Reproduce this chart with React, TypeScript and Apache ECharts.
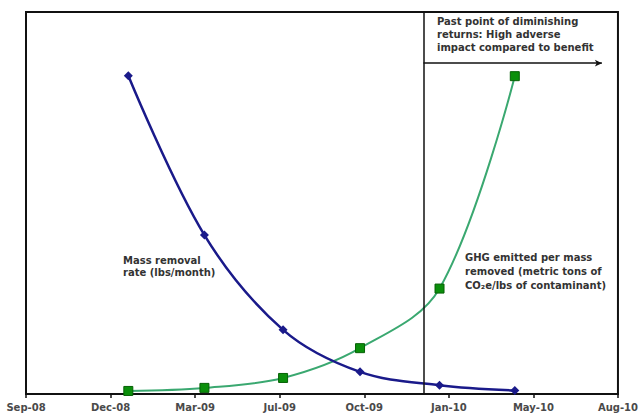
import React, { useEffect, useRef } from "react";
import * as echarts from "echarts";

// x positions are days after 9 Sep 2008 (axis origin); ticks every 100 days
const tickLabels = ["Sep-08", "Dec-08", "Mar-09", "Jul-09", "Oct-09", "Jan-10", "May-10", "Aug-10"];
const sampleDays = [121, 211, 304, 395, 489, 578];
const massRemovalRate = [83.3, 41.6, 16.8, 5.8, 2.3, 0.9];
const ghgPerMass = [0.8, 1.6, 4.2, 12.0, 27.6, 83.2];
const thresholdDay = 470;
const arrowEndDay = 681;
const arrowLevel = 86.6;

const FONT = '"DejaVu Sans", Arial, sans-serif';

export default function App() {
  const ref = useRef<HTMLDivElement>(null);
  useEffect(() => {
    if (!ref.current) return;
    const chart = echarts.init(ref.current, null, { renderer: "svg" });
    const textStyle = {
      fontFamily: FONT,
      fontWeight: "bold",
      fontSize: 10,
      fill: "#333",
    };
    chart.setOption({
      animation: false,
      backgroundColor: "#fff",
      grid: {
        left: 26,
        right: 20,
        top: 12,
        bottom: 26,
        show: true,
        borderColor: "#111",
        borderWidth: 2,
      },
      xAxis: {
        type: "value",
        min: 0,
        max: 700,
        interval: 100,
        splitLine: { show: false },
        axisLine: { show: true, lineStyle: { color: "#111", width: 2 } },
        axisTick: { show: true, length: 4, lineStyle: { color: "#111", width: 1.5 } },
        axisLabel: {
          margin: 8,
          fontFamily: FONT,
          fontWeight: "bold",
          fontSize: 10,
          color: "#4a4a4a",
          formatter: (v: number) => tickLabels[Math.round(v / 100)] ?? "",
        },
      },
      yAxis: {
        type: "value",
        min: 0,
        max: 100,
        axisLine: { show: false },
        axisTick: { show: false },
        axisLabel: { show: false },
        splitLine: { show: false },
      },
      series: [
        {
          name: "Mass removal rate",
          type: "line",
          data: sampleDays.map((d, i) => [d, massRemovalRate[i]]),
          smooth: 0.35,
          symbol: "diamond",
          symbolSize: 9,
          lineStyle: { color: "#1a1a8a", width: 2.5 },
          itemStyle: { color: "#1a1a8a" },
          z: 3,
          markLine: {
            silent: true,
            symbol: ["none", "none"],
            label: { show: false },
            lineStyle: { color: "#111", width: 1.5, type: "solid" },
            data: [{ xAxis: thresholdDay }],
          },
        },
        {
          name: "GHG emitted per mass removed",
          type: "line",
          data: sampleDays.map((d, i) => [d, ghgPerMass[i]]),
          smooth: 0.35,
          symbol: "rect",
          symbolSize: 9,
          lineStyle: { color: "#3aa870", width: 2 },
          itemStyle: { color: "#0b8f0b", borderColor: "#056005", borderWidth: 1 },
          z: 2,
          markLine: {
            silent: true,
            symbol: ["none", "arrow"],
            symbolSize: [5, 7],
            label: { show: false },
            lineStyle: { color: "#111", width: 1.5, type: "solid" },
            data: [
              [
                { coord: [thresholdDay, arrowLevel] },
                { coord: [arrowEndDay, arrowLevel] },
              ],
            ],
          },
        },
      ],
      graphic: [
        {
          type: "text",
          left: 437,
          top: 15,
          style: {
            ...textStyle,
            text: "Past point of diminishing\nreturns: High adverse\nimpact compared to benefit",
            lineHeight: 13,
          },
        },
        {
          type: "text",
          left: 123,
          top: 255,
          style: {
            ...textStyle,
            text: "Mass removal\nrate (lbs/month)",
            lineHeight: 11.5,
          },
        },
        {
          type: "text",
          left: 465,
          top: 250,
          style: {
            ...textStyle,
            text: "GHG emitted per mass\nremoved (metric tons of\nCO₂e/lbs of contaminant)",
            lineHeight: 14,
          },
        },
      ],
    });
    return () => chart.dispose();
  }, []);
  return (
    <div
      ref={ref}
      style={{ position: "absolute", left: 0, top: 0, width: 641, height: 420 }}
    />
  );
}
